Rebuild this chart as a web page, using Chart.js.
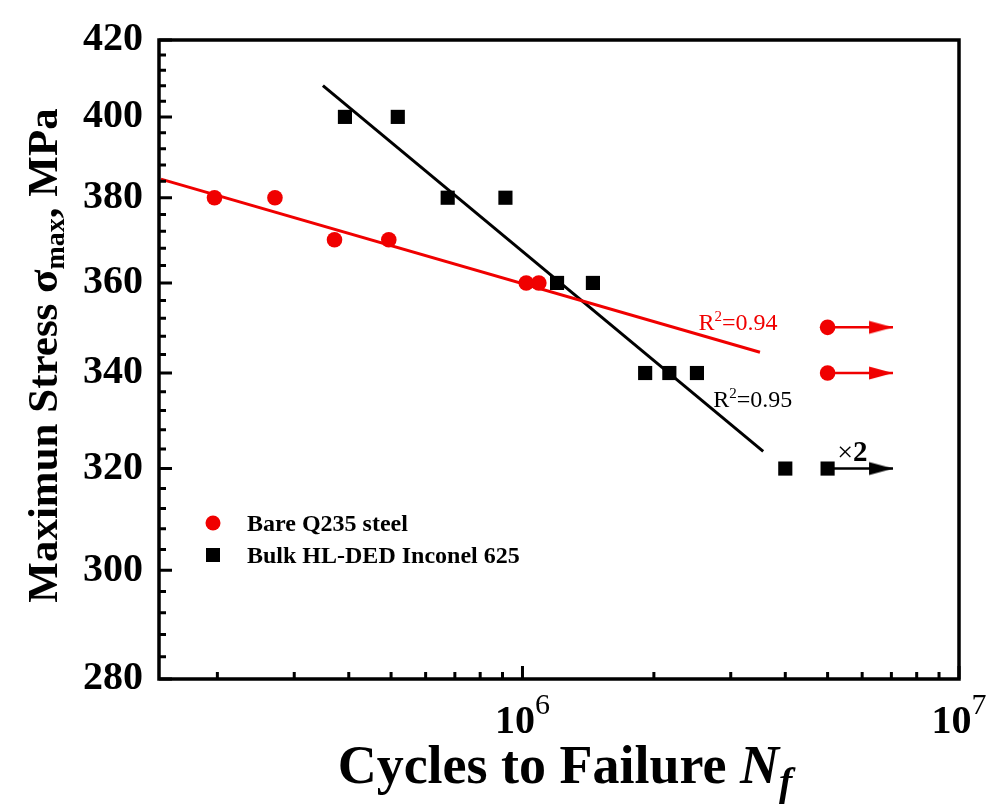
<!DOCTYPE html>
<html>
<head>
<meta charset="utf-8">
<title>S-N curve</title>
<script src="https://cdn.jsdelivr.net/npm/chart.js@4/dist/chart.umd.min.js"></script>
<style>
	body { margin: 0; background: #fff; }
	#wrap { width: 989px; height: 806px; }
</style>
</head>
<body>
<div id="wrap"><canvas id="chart"></canvas></div>
<script>
/* S-N data: cycles to failure vs max stress (MPa) */
const bareCycles = [1.97e5, 2.71e5, 3.71e5, 4.94e5, 1.02e6, 1.09e6]
const bareStress = [380, 380, 370, 370, 360, 360]
const bareRunoutCycles = [5.0e6, 5.0e6]
const bareRunoutStress = [350, 340]

const bulkCycles = [3.92e5, 5.18e5, 6.74e5, 9.14e5, 1.20e6, 1.45e6, 1.91e6, 2.17e6, 2.51e6, 4.0e6]
const bulkStress = [400, 400, 380, 380, 360, 360, 340, 340, 340, 320]
const bulkRunoutCycles = [5.0e6]
const bulkRunoutStress = [320]
const runoutTip = 7.06e6

// fitted lines, end points
const bareFitCycles = [1.485e5, 3.5e6]
const bareFitStress = [384.5, 344.5]
const bulkFitCycles = [3.49e5, 3.56e6]
const bulkFitStress = [408, 323.5]

const yTicks = [280, 300, 320, 340, 360, 380, 400, 420]
const xMajor = [1e6, 1e7]
const xExp = ['6', '7']

const RED = '#f00000'
const SERIF = '"Liberation Serif", "Times New Roman", serif'

const pts = (xs, ys) => xs.map((x, i) => ({ x, y: ys[i] }))

// arrowhead sprite, tip at the centre of the canvas so it lands on the data point
const arrowHead = (color) => {
	const c = document.createElement('canvas')
	c.width = 50
	c.height = 16
	const g = c.getContext('2d')
	g.fillStyle = color
	g.beginPath()
	g.moveTo(25, 8)
	g.lineTo(1, 1.5)
	g.lineTo(1, 14.5)
	g.closePath()
	g.fill()
	return c
}

const runoutArrows = (xs, ys, color) => xs.map((x, i) => ({
	type: 'line',
	data: [{ x, y: ys[i] }, { x: runoutTip, y: ys[i] }],
	borderColor: color,
	borderWidth: 2.5,
	pointRadius: [0, 1],
	pointStyle: ['circle', arrowHead(color)],
	order: 3
}))

// minor ticks
const yMinor = []
for (let v = 284; v < 420; v += 4) if (v % 20) yMinor.push(v)
const xMinor = []
;[1e5, 1e6].forEach((d) => { for (let k = 2; k <= 9; k++) xMinor.push(k * d) })

// text drawn with a sub/superscript piece; parts = [[text, font, dy]]
const drawParts = (ctx, parts, x, y, align) => {
	let total = 0
	parts.forEach(([t, f]) => { ctx.font = f; total += ctx.measureText(t).width })
	let cx = align === 'center' ? x - total / 2 : x
	ctx.textAlign = 'left'
	parts.forEach(([t, f, dy]) => {
		ctx.font = f
		ctx.fillText(t, cx, y + (dy || 0))
		cx += ctx.measureText(t).width
	})
}

const decor = {
	id: 'decor',
	afterDraw(chart) {
		const { ctx, chartArea: a, scales: { x, y } } = chart
		ctx.save()
		ctx.strokeStyle = '#000'
		ctx.fillStyle = '#000'

		// inward tick marks
		ctx.lineWidth = 3
		ctx.beginPath()
		yTicks.forEach((v) => { const p = y.getPixelForValue(v); ctx.moveTo(a.left, p); ctx.lineTo(a.left + 13, p) })
		yMinor.forEach((v) => { const p = y.getPixelForValue(v); ctx.moveTo(a.left, p); ctx.lineTo(a.left + 7, p) })
		xMajor.forEach((v) => { const p = x.getPixelForValue(v); ctx.moveTo(p, a.bottom); ctx.lineTo(p, a.bottom - 13) })
		xMinor.forEach((v) => {
			if (v < x.min) return
			const p = x.getPixelForValue(v)
			ctx.moveTo(p, a.bottom)
			ctx.lineTo(p, a.bottom - 7)
		})
		ctx.stroke()

		// frame
		ctx.lineWidth = 3.5
		ctx.strokeRect(a.left, a.top, a.right - a.left, a.bottom - a.top)

		// x tick labels 10^n
		ctx.textBaseline = 'alphabetic'
		xMajor.forEach((v, i) => {
			drawParts(ctx, [['10', 'bold 40px ' + SERIF, 0], [xExp[i], '30px ' + SERIF, -19]],
				x.getPixelForValue(v), a.bottom + 54, 'center')
		})

		// axis titles
		drawParts(ctx, [
			['Cycles to Failure ', 'bold 54px ' + SERIF, 0],
			['N', 'italic bold 54px ' + SERIF, 0],
			['f', 'italic bold 40px ' + SERIF, 12]
		], (a.left + a.right) / 2 + 6, a.bottom + 104, 'center')

		ctx.save()
		ctx.translate(57, (a.top + a.bottom) / 2 - 4)
		ctx.rotate(-Math.PI / 2)
		drawParts(ctx, [
			['Maximun Stress \u03c3', 'bold 43px ' + SERIF, 0],
			['max', 'bold 28px ' + SERIF, 7],
			[', MPa', 'bold 43px ' + SERIF, 0]
		], 0, 0, 'center')
		ctx.restore()

		// fit annotations
		ctx.fillStyle = RED
		drawParts(ctx, [['R', '24px ' + SERIF, 0], ['2', '15px ' + SERIF, -9], ['=0.94', '24px ' + SERIF, 0]],
			x.getPixelForValue(2.53e6), y.getPixelForValue(349.3), 'left')
		ctx.fillStyle = '#000'
		drawParts(ctx, [['R', '24px ' + SERIF, 0], ['2', '15px ' + SERIF, -9], ['=0.95', '24px ' + SERIF, 0]],
			x.getPixelForValue(2.735e6), y.getPixelForValue(332.8), 'left')
		drawParts(ctx, [['\u00d7', '28px ' + SERIF, 0], ['2', 'bold 29px ' + SERIF, 0]],
			x.getPixelForValue(5.26e6), y.getPixelForValue(321.5), 'left')

		// legend
		const lx = a.left + 54
		const ly = a.top + 483
		ctx.fillStyle = RED
		ctx.beginPath()
		ctx.arc(lx, ly, 7.5, 0, Math.PI * 2)
		ctx.fill()
		ctx.fillStyle = '#000'
		ctx.fillRect(lx - 7, ly + 32 - 7, 14, 14)
		ctx.font = 'bold 24px ' + SERIF
		ctx.fillText('Bare Q235 steel', lx + 34, ly + 8)
		ctx.fillText('Bulk HL-DED Inconel 625', lx + 34, ly + 40)
		ctx.restore()
	}
}

new Chart(document.getElementById('chart'), {
	type: 'scatter',
	data: {
		datasets: [
			{
				label: 'Bare Q235 steel',
				data: pts(bareCycles.concat(bareRunoutCycles), bareStress.concat(bareRunoutStress)),
				pointStyle: 'circle',
				pointRadius: 7.8,
				backgroundColor: RED,
				borderWidth: 0,
				order: 1
			},
			{
				label: 'Bulk HL-DED Inconel 625',
				data: pts(bulkCycles.concat(bulkRunoutCycles), bulkStress.concat(bulkRunoutStress)),
				pointStyle: 'rect',
				pointRadius: 10,
				backgroundColor: '#000',
				borderWidth: 0,
				order: 1
			},
			{
				type: 'line',
				data: pts(bareFitCycles, bareFitStress),
				borderColor: RED,
				borderWidth: 3,
				pointRadius: 0,
				order: 2
			},
			{
				type: 'line',
				data: pts(bulkFitCycles, bulkFitStress),
				borderColor: '#000',
				borderWidth: 3,
				pointRadius: 0,
				order: 2
			},
			...runoutArrows(bareRunoutCycles, bareRunoutStress, RED),
			...runoutArrows(bulkRunoutCycles, bulkRunoutStress, '#000')
		]
	},
	options: {
		responsive: true,
		maintainAspectRatio: false,
		animation: false,
		events: [],
		layout: { padding: { top: 36, right: 30, left: 0, bottom: 0 } },
		plugins: { legend: { display: false }, tooltip: { enabled: false } },
		scales: {
			x: {
				type: 'logarithmic',
				min: 1.47e5,
				max: 1e7,
				grid: { display: false, drawTicks: false },
				border: { display: false },
				ticks: { display: false },
				afterFit: (s) => { s.height = 127 }
			},
			y: {
				type: 'logarithmic',
				min: 280,
				max: 420,
				grid: { display: false, drawTicks: false },
				border: { display: false },
				afterBuildTicks: (s) => { s.ticks = yTicks.map((v) => ({ value: v })) },
				ticks: {
					callback: (v) => v,
					color: '#000',
					padding: 16,
					font: { family: SERIF, size: 40, weight: 'bold' }
				},
				afterFit: (s) => { s.width = 159 }
			}
		}
	},
	plugins: [decor]
})
</script>
</body>
</html>
